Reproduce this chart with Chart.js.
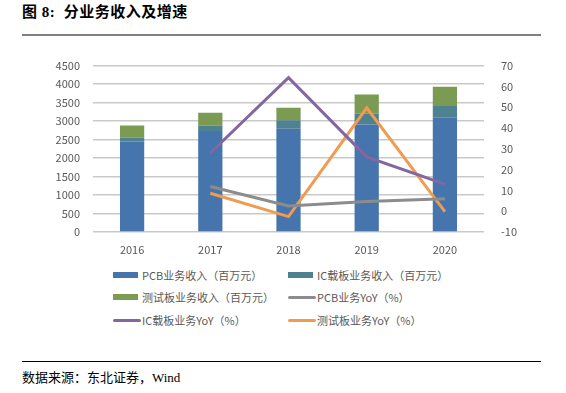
<!DOCTYPE html>
<html>
<head>
<meta charset="utf-8">
<script src="https://cdn.jsdelivr.net/npm/chart.js@4"></script>
<style>
    body { margin: 0; width: 566px; height: 393px; background: #fff; position: relative; overflow: hidden; }
    #titulo { position: absolute; left: 22px; top: 0px; font: bold 15px "Liberation Serif", "Noto Sans CJK SC", serif; color: #000; letter-spacing: 0.5px; }
    #linea-titulo { position: absolute; left: 22px; top: 34px; width: 519px; height: 2px; background: #808080; }
    #grafico { position: absolute; left: 0; top: 46px; width: 566px; height: 209px; }
    #leyenda { position: absolute; left: 0; top: 0; font: 11px "Noto Sans CJK SC", sans-serif; color: #595959; }
    .item { position: absolute; display: flex; align-items: center; white-space: nowrap; }
    .marca { display: inline-block; width: 25px; margin-right: 4px; }
    #linea-fuente { position: absolute; left: 22px; top: 361px; width: 519px; height: 1px; background: #000; }
    #fuente { position: absolute; left: 22px; top: 367px; font: 13px "Liberation Serif", "Noto Sans CJK SC", serif; color: #000; }
</style>
</head>
<body>
<div id="titulo">图 8:&nbsp; 分业务收入及增速</div>
<div id="linea-titulo"></div>
<div id="grafico"><canvas id="chartNegocio"></canvas></div>
<div id="leyenda"></div>
<div id="linea-fuente"></div>
<div id="fuente">数据来源：东北证券，Wind</div>
<script>
// Datos
const anios = ['2016', '2017', '2018', '2019', '2020'];
const ingresosPCB = [2450, 2730, 2795, 2910, 3090];
const ingresosIC = [100, 145, 225, 290, 315];
const ingresosTest = [330, 350, 340, 520, 525];
const yoyPCB = [null, 11.9, 2.5, 4.7, 6.0];
const yoyIC = [null, 28.0, 64.2, 26.1, 13.0];
const yoyTest = [null, 8.6, -2.6, 49.7, -0.2];
const ticksIzq = [0, 500, 1000, 1500, 2000, 2500, 3000, 3500, 4000, 4500];
const ticksDer = [-10, 0, 10, 20, 30, 40, 50, 60, 70];

const colores = {
    pcb: '#4675ad',
    ic: '#4e8290',
    test: '#7b9b52',
    yoyPcb: '#8c8c8c',
    yoyIc: '#8466a0',
    yoyTest: '#f09b50'
};

const fuenteEjes = { family: '"Noto Sans CJK SC", sans-serif', size: 11 };

const barra = (label, data, color) => ({
    type: 'bar', label, data, backgroundColor: color,
    yAxisID: 'y', stack: 'ingresos', order: 2,
    barPercentage: 0.62, categoryPercentage: 0.5
});
const linea = (label, data, color) => ({
    type: 'line', label, data, borderColor: color, backgroundColor: color,
    yAxisID: 'y1', borderWidth: 3, pointRadius: 0, tension: 0, order: 1
});

const ctx = document.getElementById('chartNegocio').getContext('2d');
const grafico = new Chart(ctx, {
    data: {
        labels: anios,
        datasets: [
            barra('PCB业务收入（百万元）', ingresosPCB, colores.pcb),
            barra('IC载板业务收入（百万元）', ingresosIC, colores.ic),
            barra('测试板业务收入（百万元）', ingresosTest, colores.test),
            linea('PCB业务YoY（%）', yoyPCB, colores.yoyPcb),
            linea('IC载板业务YoY（%）', yoyIC, colores.yoyIc),
            linea('测试板业务YoY（%）', yoyTest, colores.yoyTest)
        ]
    },
    options: {
        responsive: true,
        maintainAspectRatio: false,
        animation: false,
        layout: { padding: { top: 3, left: 0, right: 0, bottom: 0 } },
        plugins: { legend: { display: false }, tooltip: { enabled: false } },
        scales: {
            x: {
                stacked: true,
                grid: { display: false },
                border: { display: false },
                ticks: { color: '#595959', font: fuenteEjes, padding: 3 },
                afterFit: (s) => { s.height = 23; }
            },
            y: {
                position: 'left',
                stacked: true,
                min: 0, max: 4500,
                afterBuildTicks: (s) => { s.ticks = ticksIzq.map(v => ({ value: v })); },
                grid: { color: '#c9c9c9', lineWidth: 1.5, drawTicks: false },
                border: { display: false },
                ticks: { color: '#595959', font: fuenteEjes, padding: 13, callback: (v) => String(v) },
                afterFit: (s) => { s.width = 93; }
            },
            y1: {
                position: 'right',
                min: -10, max: 70,
                afterBuildTicks: (s) => { s.ticks = ticksDer.map(v => ({ value: v })); },
                grid: { display: false },
                border: { display: false },
                ticks: { color: '#595959', font: fuenteEjes, padding: 9, callback: (v) => String(v) },
                afterFit: (s) => { s.width = 82; }
            }
        }
    }
});

// Leyenda en dos columnas
const posiciones = [
    [113, 275], [288, 275],
    [113, 297], [288, 297],
    [113, 320], [288, 320]
];
const leyenda = document.getElementById('leyenda');
grafico.data.datasets.forEach((ds, i) => {
    const item = document.createElement('div');
    item.className = 'item';
    item.style.left = posiciones[i][0] + 'px';
    item.style.top = (posiciones[i][1] - 8) + 'px';
    const marca = document.createElement('span');
    marca.className = 'marca';
    if (ds.type === 'bar') {
        marca.style.height = '6px';
        marca.style.background = ds.backgroundColor;
    } else {
        marca.style.height = '3px';
        marca.style.borderRadius = '2px';
        marca.style.background = ds.borderColor;
        marca.style.width = '28px';
        marca.style.marginRight = '1px';
    }
    item.appendChild(marca);
    item.appendChild(document.createTextNode(ds.label));
    leyenda.appendChild(item);
});
</script>
</body>
</html>
